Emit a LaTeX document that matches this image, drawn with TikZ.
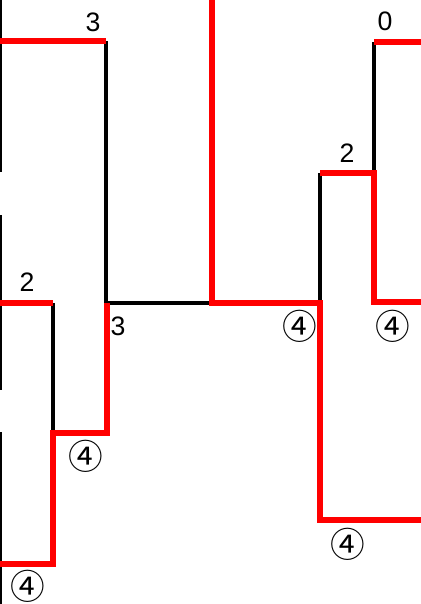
\documentclass[tikz,border=0pt]{standalone}
\usepackage{fontspec}
\setmainfont{Liberation Sans}
\newfontfamily\cjk{Noto Sans CJK JP}
\usetikzlibrary{positioning}
\definecolor{pred}{HTML}{FF0000}
\tikzset{
  redl/.style={draw=pred,line width=3.8pt},
  blkl/.style={draw=black,line width=2.5pt},
  edgel/.style={draw=black,line width=1.2pt},
  num/.style={font=\fontsize{20}{20}\selectfont,inner sep=0pt},
  circ/.style={font=\cjk\fontsize{26}{26}\selectfont,inner sep=0pt},
}

\begin{document}
\begin{tikzpicture}[x=0.75pt,y=-0.75pt]
  \useasboundingbox (0,0) rectangle (421,604);
  % corner points
  \coordinate (a1) at (0,41);   \coordinate (a2) at (106,41);
  \coordinate (a3) at (106,303); \coordinate (a4) at (212,303);
  \coordinate (a5) at (212,0);  \coordinate (a6) at (320,303);
  \coordinate (a7) at (320,520); \coordinate (a8) at (421,520);
  \coordinate (b1) at (320,173); \coordinate (b2) at (374,173);
  \coordinate (b3) at (374,302); \coordinate (b4) at (421,302);
  \coordinate (b5) at (374,42);  \coordinate (b6) at (421,42);
  \coordinate (c1) at (0,303);  \coordinate (c2) at (53,303);
  \coordinate (c3) at (53,433); \coordinate (c4) at (107,433);
  \coordinate (c5) at (107,303); \coordinate (c6) at (53,564);
  \coordinate (c7) at (0,564);
  % left edge
  \draw[edgel] (1,0) -- (1,172) (1,215) -- (1,390) (1,432) -- (1,604);
  % black steps
  \draw[blkl] (a2) -- (a3) -- (a4);
  \draw[blkl] (a6) -- (b1);
  \draw[blkl] (b2) -- (b5);
  \draw[blkl] (c2) -- (c3);
  % red steps
  \draw[redl] (a1) -- (a2);
  \draw[redl] (a5) -- (a4) -- (a6) -- (a7) -- (a8);
  \draw[redl] (b1) -- (b2) -- (b3) -- (b4);
  \draw[redl] (b5) -- (b6);
  \draw[redl] (c1) -- (c2);
  \draw[redl] (c5) -- (c4) -- (c3) -- (c6) -- (c7);
  % labels
  \node[num] (n3a) at (93,22) {3};
  \node[num] (n0) at (385,21) {0};
  \node[num] (n2a) at (347,153) {2};
  \node[num] (n2b) at (27,282) {2};
  \node[num] (n3b) at (118,326) {3};
  \node[circ] (q1) at (86,456) {④};
  \node[circ] (q2) at (28,586) {④};
  \node[circ] (q3) at (300,326) {④};
  \node[circ] (q4) at (393,326) {④};
  \node[circ] (q5) at (348,544) {④};
\end{tikzpicture}
\end{document}
